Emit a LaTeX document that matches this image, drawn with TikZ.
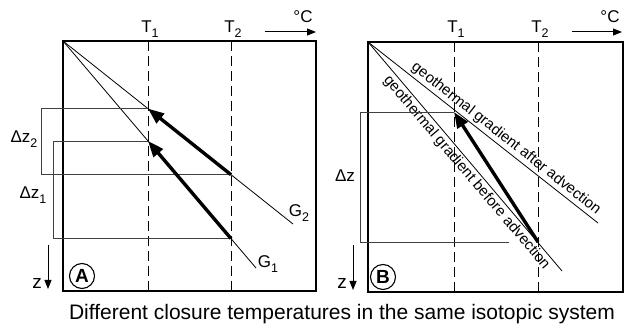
\documentclass[tikz,border=0pt]{standalone}
\usepackage{fontspec}
\setmainfont{Liberation Sans}
\usetikzlibrary{arrows.meta,calc}
\newcommand{\lsub}[2]{#1\raisebox{-0.5ex}{\fontsize{12.5}{13}\selectfont #2}}
\tikzset{
  frame/.style={line width=1.5pt},
  tdash/.style={line width=1pt, dash pattern=on 10pt off 5pt},
  grad/.style={line width=0.8pt},
  guide/.style={line width=0.6pt, black!75},
  bigarrow/.style={line width=3.4pt, -{Triangle[length=16pt,width=12pt]}},
  smallarrow/.style={line width=1pt, -{Triangle[length=9pt,width=7pt]}},
  lab/.style={font=\fontsize{17}{19}\selectfont, inner sep=0pt},
  zlab/.style={font=\fontsize{19}{20}\selectfont, inner sep=0pt},
  slab/.style={font=\fontsize{15}{18}\selectfont, inner sep=2pt},
  panel/.style={circle, draw, line width=1.1pt, minimum size=25pt, inner sep=0pt, font=\bfseries\fontsize{19}{20}\selectfont},
}
\begin{document}
\begin{tikzpicture}[x=1pt,y=-1pt]
\useasboundingbox (0,0) rectangle (626,328);
% ---------------- Panel A ----------------
\coordinate (A-nw) at (63,41);
\coordinate (A-se) at (316,291);
\draw[frame] (A-nw) rectangle (A-se);
\coordinate (A-t1top) at (148,41); \coordinate (A-t1bot) at (148,291);
\coordinate (A-t2top) at (231,41); \coordinate (A-t2bot) at (231,291);
\draw[tdash] (A-t1top) -- (A-t1bot);
\draw[tdash] (A-t2top) -- (A-t2bot);
\node[lab] (A-T1) at (150,29) {\lsub{T}{1}};
\node[lab] (A-T2) at (233,29) {\lsub{T}{2}};
\node[lab] (A-deg) at (303,17) {°C};
\coordinate (A-ca) at (265,32); \coordinate (A-cb) at (316,32);
\draw[smallarrow] (A-ca) -- (A-cb);
\coordinate (A-G2end) at (293,224);
\coordinate (A-G1end) at (256,268);
\draw[grad] (A-nw) -- (A-G2end);
\draw[grad] (A-nw) -- (A-G1end);
\coordinate (A-p2top) at (148,108.6); \coordinate (A-p2bot) at (231,174.7);
\coordinate (A-p1top) at (148,141);   \coordinate (A-p1bot) at (231,238.6);
\coordinate (A-g2a) at (41,108.6); \coordinate (A-g2b) at (41,174.7);
\coordinate (A-g1a) at (53,141);   \coordinate (A-g1b) at (53,238.6);
\draw[guide] (A-p2top) -- (A-g2a) -- (A-g2b) -- (A-p2bot);
\draw[guide] (A-p1top) -- (A-g1a) -- (A-g1b) -- (A-p1bot);
\draw[bigarrow] (A-p2bot) -- (A-p2top);
\draw[bigarrow] (A-p1bot) -- (A-p1top);
\node[lab] (A-dz2) at (24,139) {Δ\lsub{z}{2}};
\node[lab] (A-dz1) at (33,195) {Δ\lsub{z}{1}};
\node[lab] (A-G2) at (299,213) {\lsub{G}{2}};
\node[lab] (A-G1) at (268,264) {\lsub{G}{1}};
\coordinate (A-za) at (48,245); \coordinate (A-zb) at (48,289);
\draw[smallarrow] (A-za) -- (A-zb);
\node[zlab] (A-z) at (37,283) {z};
\node[panel] (A-lab) at (82,276) {A};
% ---------------- Panel B ----------------
\coordinate (B-nw) at (368,42);
\coordinate (B-se) at (623,292);
\draw[frame] (B-nw) rectangle (B-se);
\coordinate (B-t1top) at (454,42); \coordinate (B-t1bot) at (454,292);
\coordinate (B-t2top) at (538,42); \coordinate (B-t2bot) at (538,292);
\draw[tdash] (B-t1top) -- (B-t1bot);
\draw[tdash] (B-t2top) -- (B-t2bot);
\node[lab] (B-T1) at (456,29) {\lsub{T}{1}};
\node[lab] (B-T2) at (540,29) {\lsub{T}{2}};
\node[lab] (B-deg) at (610,17) {°C};
\coordinate (B-ca) at (572,32); \coordinate (B-cb) at (622,32);
\draw[smallarrow] (B-ca) -- (B-cb);
\coordinate (B-aftend) at (598,223);
\coordinate (B-befend) at (562,271);
\draw[grad] (B-nw) -- node[slab, pos=0.575, sloped, above] (B-afttxt) {geothermal gradient after advection} (B-aftend);
\draw[grad] (B-nw) -- node[slab, pos=0.545, sloped, below] (B-beftxt) {geothermal gradient before advection} (B-befend);
\coordinate (B-ptop) at (454,112); \coordinate (B-pbot) at (538,242);
\coordinate (B-ga) at (360,112); \coordinate (B-gb) at (360,242); \coordinate (B-gc) at (509,242);
\draw[guide] (B-ptop) -- (B-ga) -- (B-gb) -- (B-gc);
\draw[bigarrow] (B-pbot) -- (B-ptop);
\node[lab] (B-dz) at (345,176) {Δz};
\coordinate (B-za) at (353,245); \coordinate (B-zb) at (353,290);
\draw[smallarrow] (B-za) -- (B-zb);
\node[zlab] (B-z) at (342,283) {z};
\node[panel] (B-lab) at (383,277) {B};
% ---------------- Caption ----------------
\node[font=\fontsize{21}{24}\selectfont, inner sep=0pt] (cap) at (342,314) {Different closure temperatures in the same isotopic system};
\end{tikzpicture}
\end{document}
